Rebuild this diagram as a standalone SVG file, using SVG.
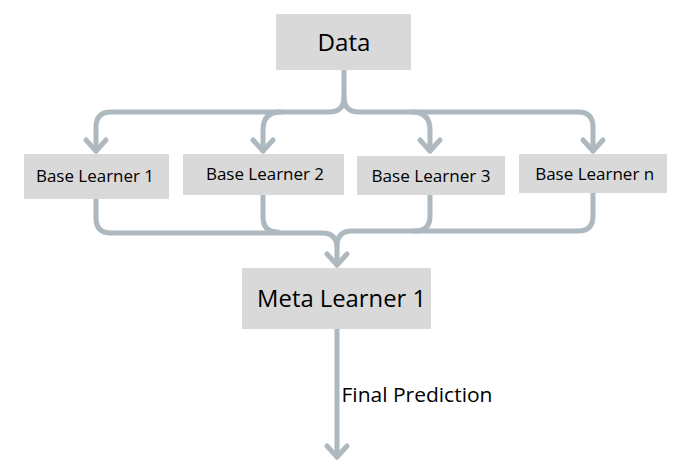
<svg xmlns="http://www.w3.org/2000/svg" width="696" height="472" viewBox="0 0 696 472">
<style>
.box{fill:#d9d9d9}
.t{font-family:"Open Sans","Liberation Sans",sans-serif;fill:#000;text-anchor:middle}
.s{font-size:16.5px}
.b{font-size:23.5px}
.c{fill:none;stroke:#adb8bf;stroke-width:5;stroke-linecap:round;stroke-linejoin:round}
</style>
<defs>
<marker id="ah" markerUnits="userSpaceOnUse" markerWidth="30" markerHeight="30" orient="auto" refX="0" refY="0" overflow="visible">
<path d="M -11 -10 L 0 0 L -11 10" fill="none" stroke="#adb8bf" stroke-width="5" stroke-linecap="round" stroke-linejoin="round"/>
</marker>
</defs>
<rect width="696" height="472" fill="#ffffff"/>
<g id="connectors">
<path class="c" d="M 344 70 V 97 Q 344 112 329 112 H 111 Q 96 112 96 127 V 151" marker-end="url(#ah)"/>
<path class="c" d="M 281 112 Q 263 112 263 130 V 151" marker-end="url(#ah)"/>
<path class="c" d="M 344 97 Q 344 112 359 112 H 578 Q 593 112 593 127 V 151" marker-end="url(#ah)"/>
<path class="c" d="M 412 112 Q 430 112 430 130 V 151" marker-end="url(#ah)"/>
<path class="c" d="M 96 199 V 218 Q 96 233 111 233 H 322 Q 337 233 337 248 V 265" marker-end="url(#ah)"/>
<path class="c" d="M 263 195 V 217 Q 263 232 278 232"/>
<path class="c" d="M 593 193 V 216 Q 593 231 578 231 H 352 Q 337 231 337 246"/>
<path class="c" d="M 430 195 V 216 Q 430 231 415 231"/>
<path class="c" d="M 337 329 V 457" marker-end="url(#ah)"/>
<text class="t" x="417" y="401.5" style="font-size:19.5px" textLength="151" lengthAdjust="spacingAndGlyphs">Final Prediction</text>
</g>
<g id="data">
<rect class="box" x="276" y="14" width="135" height="56"/>
<text class="t b" x="344" y="51" textLength="53" lengthAdjust="spacingAndGlyphs">Data</text>
</g>
<g id="base1">
<rect class="box" x="24" y="154" width="145" height="45"/>
<text class="t s" x="95" y="181.7" textLength="118" lengthAdjust="spacingAndGlyphs">Base Learner 1</text>
</g>
<g id="base2">
<rect class="box" x="183" y="154" width="161" height="41"/>
<text class="t s" x="265" y="180" textLength="118" lengthAdjust="spacingAndGlyphs">Base Learner 2</text>
</g>
<g id="base3">
<rect class="box" x="357" y="156" width="148" height="39"/>
<text class="t s" x="431" y="181.7" textLength="119" lengthAdjust="spacingAndGlyphs">Base Learner 3</text>
</g>
<g id="basen">
<rect class="box" x="519" y="154" width="148" height="39"/>
<text class="t s" x="594.7" y="180" textLength="119" lengthAdjust="spacingAndGlyphs">Base Learner n</text>
</g>
<g id="meta">
<rect class="box" x="242" y="268" width="189" height="61"/>
<text class="t b" x="341.6" y="306.7" textLength="169" lengthAdjust="spacingAndGlyphs">Meta Learner 1</text>
</g>
</svg>
